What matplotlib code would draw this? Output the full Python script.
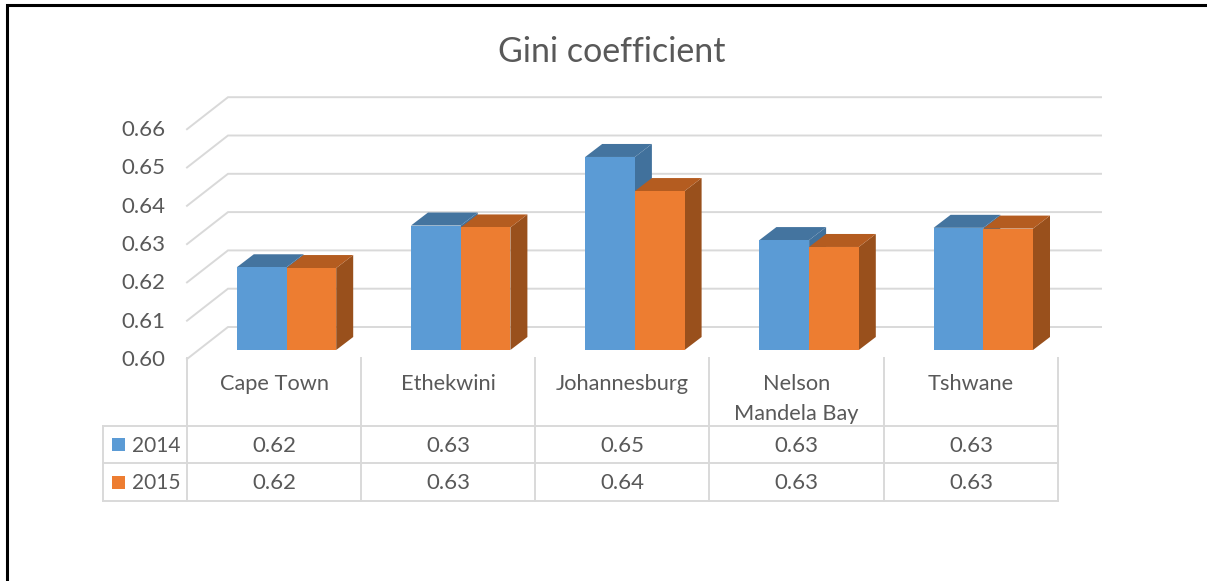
import matplotlib
matplotlib.use('Agg')
import matplotlib.pyplot as plt
from matplotlib.patches import Polygon, Rectangle

plt.rcParams['font.family'] = ['Lato', 'DejaVu Sans']

CITIES = ['Cape Town', 'Ethekwini', 'Johannesburg', 'Nelson\nMandela Bay', 'Tshwane']
GINI_2014 = [0.6216, 0.6325, 0.6504, 0.6287, 0.6319]
GINI_2015 = [0.6214, 0.6320, 0.6415, 0.6269, 0.6317]
YEARS = ['2014', '2015']
Y_TICKS = [0.60, 0.61, 0.62, 0.63, 0.64, 0.65, 0.66]

W, H = 1207, 581
TEXT_C = '#595959'
GRID_C = '#d9d9d9'
FRONT = ['#5b9bd5', '#ed7d31']
TOP = ['#44749f', '#b45c20']
SIDE = ['#41719c', '#99501c']

# pixel scale of the value/category axes
X0, X_STEP = 286.5, 174.2
Y0, Y_STEP = 350.0, 38.3
BAR_W = 49.7 / X_STEP
DX, DY = 17 / X_STEP, 13 / Y_STEP * 0.01


def main():
    fig = plt.figure(figsize=(W / 100, H / 100), dpi=100, facecolor='white')

    # chart axes: x in category index, y in Gini value
    ax = fig.add_axes([0, 0, 1, 1])
    ax.set_xlim(-X0 / X_STEP, (W - X0) / X_STEP)
    ax.set_ylim(0.60 - (H - Y0) / Y_STEP * 0.01, 0.60 + Y0 / Y_STEP * 0.01)
    ax.axis('off')

    # back wall and floor lines
    back_x = (228 - X0) / X_STEP
    front_x = (187 - X0) / X_STEP
    end_x = (1101 - X0) / X_STEP
    back_up = 23 / Y_STEP * 0.01
    front_down = 9 / Y_STEP * 0.01
    for v in Y_TICKS:
        ax.plot([front_x, back_x, end_x], [v - front_down, v + back_up, v + back_up],
                color=GRID_C, lw=1.4, solid_joinstyle='miter', zorder=1)
        ax.annotate(f'{v:.2f}', (front_x, v - front_down), xytext=(-22, -1),
                    textcoords='offset pixels', ha='right', va='center',
                    fontsize=16, color=TEXT_C)

    # 3D-look columns: side and top faces behind each front face
    for s, values in enumerate([GINI_2014, GINI_2015]):
        for i, v in enumerate(values):
            x = i + (s - 1) * BAR_W
            ax.add_patch(Polygon([(x + BAR_W, 0.60), (x + BAR_W + DX, 0.60 + DY),
                                  (x + BAR_W + DX, v + DY), (x + BAR_W, v)],
                                 facecolor=SIDE[s], edgecolor='none', zorder=2 + s))
            ax.add_patch(Polygon([(x, v), (x + DX, v + DY),
                                  (x + BAR_W + DX, v + DY), (x + BAR_W, v)],
                                 facecolor=TOP[s], edgecolor='none', zorder=2 + s))
            ax.bar(x, v - 0.60, bottom=0.60, width=BAR_W, align='edge',
                   color=FRONT[s], zorder=2.5 + s)

    # overlay in pixels for the frame, title and data table
    tb = fig.add_axes([0, 0, 1, 1], facecolor='none')
    tb.set_xlim(0, W)
    tb.set_ylim(H, 0)
    tb.axis('off')

    tb.plot([7, 7, W], [H, 5, 5], color='black', lw=2.2, solid_joinstyle='miter')
    tb.text(612, 52, 'Gini coefficient', ha='center', va='center', fontsize=24.5, color=TEXT_C)

    cell_x = [187, 361, 535, 709, 884, 1058]
    row_y = [426, 463, 501]
    for x in cell_x:
        tb.plot([x, x], [358, 501], color=GRID_C, lw=1.4)
    tb.plot([103, 103], [426, 501], color=GRID_C, lw=1.4)
    for y in row_y:
        tb.plot([103, 1058], [y, y], color=GRID_C, lw=1.4)

    for i, city in enumerate(CITIES):
        cx = (cell_x[i] + cell_x[i + 1]) / 2
        tb.text(cx, 374, city, ha='center', va='top', fontsize=15.7, color=TEXT_C,
                linespacing=1.6)
        for r, values in enumerate([GINI_2014, GINI_2015]):
            tb.text(cx, (row_y[r] + row_y[r + 1]) / 2 + 1, f'{values[i]:.2f}',
                    ha='center', va='center', fontsize=16, color=TEXT_C)

    for r, year in enumerate(YEARS):
        cy = (row_y[r] + row_y[r + 1]) / 2
        tb.add_patch(Rectangle((112, cy - 6.5), 13, 13, facecolor=FRONT[r], edgecolor='none'))
        tb.text(132, cy + 1, year, ha='left', va='center', fontsize=15, color=TEXT_C)

    fig.savefig('out.png', dpi=100, facecolor='white')


if __name__ == '__main__':
    main()
